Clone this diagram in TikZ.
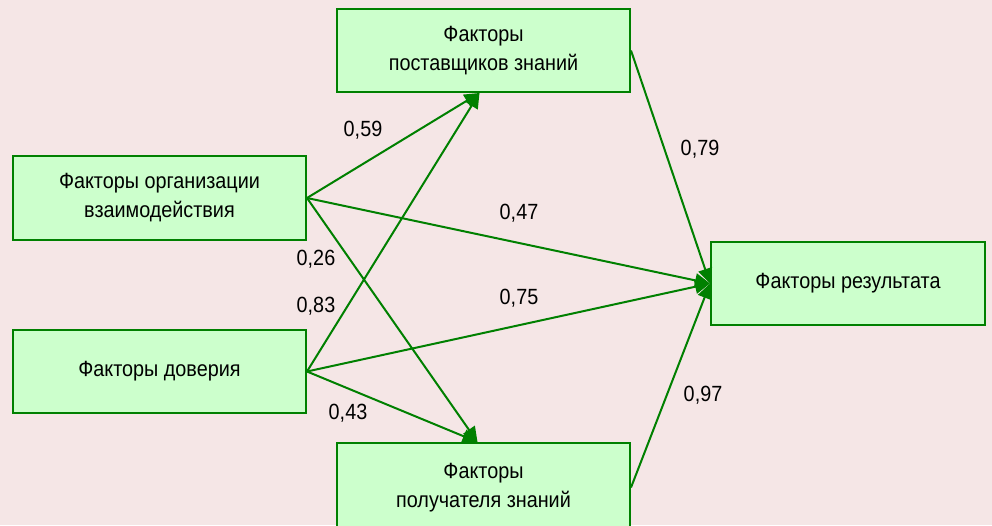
\documentclass[tikz,border=0pt]{standalone}
\usepackage{fontspec}
\setmainfont{Liberation Sans}[FakeStretch=0.9]
\usetikzlibrary{arrows.meta}
\definecolor{bgpink}{RGB}{245,230,230}
\definecolor{boxfill}{RGB}{204,255,204}
\definecolor{linegreen}{RGB}{0,128,0}
\tikzset{
  factor/.style={draw=linegreen, line width=2pt, fill=boxfill, align=center,
    inner sep=0pt, font=\fontsize{22}{29}\selectfont},
  path/.style={draw=linegreen, line width=2pt,
    -{Triangle[length=15pt,width=14pt]}},
  weight/.style={inner sep=0pt, font=\fontsize{22}{26}\selectfont}
}
\begin{document}
\begin{tikzpicture}[x=1pt,y=-1pt]
  % page background
  \fill[bgpink] (0,0) rectangle (992,525);
  \useasboundingbox (0,0) rectangle (992,525);

  % factor blocks
  \node[factor, minimum width=293pt, minimum height=84pt] (org) at (159.5,198)
    {Факторы организации\\взаимодействия};
  \node[factor, minimum width=293pt, minimum height=83pt] (trust) at (159.5,371.5)
    {Факторы доверия};
  \node[factor, minimum width=293pt, minimum height=83pt] (supp) at (483.5,50.5)
    {Факторы\\поставщиков знаний};
  % this block runs past the lower edge of the page
  \node[factor, minimum width=293pt, minimum height=89pt] (recv) at (483.5,487.5)
    {Факторы\\получателя знаний};
  \node[factor, minimum width=274pt, minimum height=83pt] (res) at (848,283.5)
    {Факторы результата};

  % paths between blocks
  \draw[path] (org.east) -- ([xshift=-4pt]supp.south);
  \draw[path] (trust.east) -- ([xshift=-4pt]supp.south);
  \draw[path] (org.east) -- ([xshift=-6pt]recv.north);
  \draw[path] (trust.east) -- ([xshift=-6pt]recv.north);
  \draw[path] (org.east) -- (res.west);
  \draw[path] (trust.east) -- (res.west);
  \draw[path] (supp.east) -- (res.west);
  \draw[path] (recv.east) -- (res.west);

  % path coefficients
  \node[weight] (w59) at (363,130) {0,59};
  \node[weight] (w79) at (700,149) {0,79};
  \node[weight] (w47) at (519,213) {0,47};
  \node[weight] (w26) at (316,259) {0,26};
  \node[weight] (w83) at (316,306) {0,83};
  \node[weight] (w75) at (519,298) {0,75};
  \node[weight] (w43) at (348,413) {0,43};
  \node[weight] (w97) at (703,395) {0,97};
\end{tikzpicture}
\end{document}
